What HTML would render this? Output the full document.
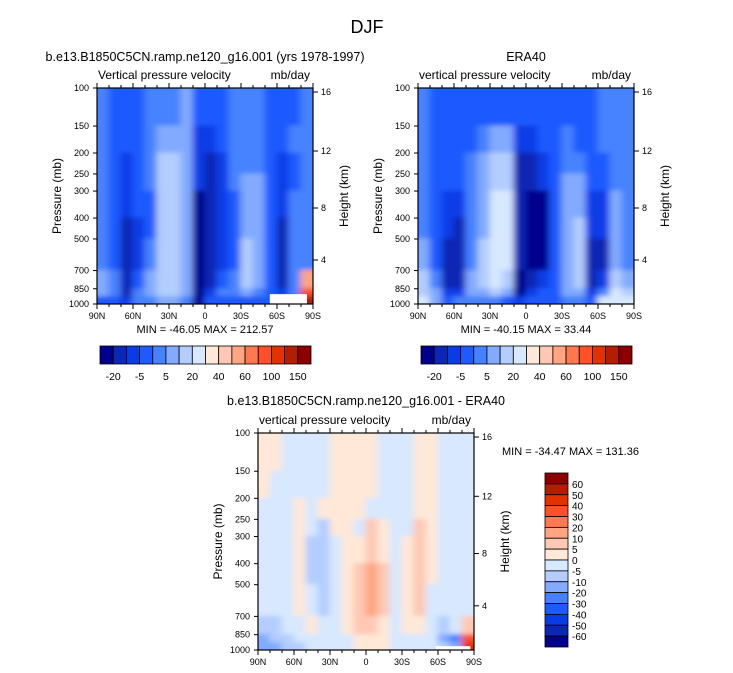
<!DOCTYPE html>
<html><head><meta charset="utf-8">
<style>
html,body{margin:0;padding:0;background:#fff;}
svg{display:block;font-family:"Liberation Sans",Arial,sans-serif;}
</style></head>
<body>
<svg id="root" width="733" height="673" viewBox="0 0 733 673" xmlns="http://www.w3.org/2000/svg">
<defs>
<filter id="blur" filterUnits="userSpaceOnUse" x="0" y="0" width="733" height="673"><feGaussianBlur stdDeviation="3.5 2.5"/></filter>
</defs>
<text x="367" y="33" font-size="18" text-anchor="middle">DJF</text>
</svg>
<script>
// ---- data ----
const latLabels = ["90N","60N","30N","0","30S","60S","90S"];
const presTicks = [100,150,200,250,300,400,500,700,850,1000];
const heightTicks = [16,12,8,4];
const layerEdges = [100,150,200,250,300,400,500,700,850,925,1000];
const latEdges = [90,80,70,60,50,40,30,20,10,0,-10,-20,-30,-40,-50,-60,-70,-80,-90];
const palette = ["#00008c","#0a28b4","#0a3ce6","#1e5aff","#4682ff","#82aaff","#b4cdff","#d7e8ff","#ffe8d7","#ffc8b4","#ffa582","#ff7850","#ff5028","#e13200","#b41e00","#8c0000"];
const levelsAbs = [-40,-30,-20,-10,-5,0,5,10,20,30,40,60,80,100,150];
const levelsDiff = [-60,-50,-40,-30,-20,-10,-5,0,5,10,20,30,40,50,60];
const cbLabelsAbs = ["-20","-5","5","20","40","60","100","150"];
const cbLabelsDiff = ["60","50","40","30","20","10","5","0","-5","-10","-20","-30","-40","-50","-60"];
const modelField = [
[-7,-12,-15,-15,-7,-7,-7,-5,-15,-15,-15,-7,-7,-7,-15,-15,-15,-7],
[-7,-12,-15,-15,-7,-3,-3,-3,-25,-25,-15,-7,-7,-7,-15,-15,-7,-7],
[-7,-15,-25,-15,-7,2,2,-3,-25,-35,-25,-7,-7,-7,-15,-25,-15,-7],
[-7,-15,-25,-15,-7,2,2,-3,-25,-35,-25,-7,-3,-3,-15,-25,-15,-7],
[-7,-15,-25,-15,-15,2,2,-3,-45,-35,-25,-15,-3,-3,-15,-25,-7,-7],
[-7,-15,-35,-25,-15,2,2,-3,-45,-35,-25,-15,-3,-3,-15,-35,-7,-7],
[-7,-15,-35,-25,-7,2,2,-3,-45,-35,-25,-15,2,-3,-15,-35,-7,-7],
[-3,-7,-35,-15,-3,2,2,-3,-45,-35,-15,-7,2,-3,-15,-35,-7,30],
[-3,-7,-35,-7,-3,2,2,-3,-45,-25,-7,-7,-3,-7,-15,-25,-7,60],
[-15,-15,-25,-7,-7,-3,-3,-7,-45,-15,-15,-15,-15,-15,-15,-15,-15,100]];
const eraField = [
[-7,-15,-15,-15,-15,-15,-15,-15,-15,-15,-15,-15,-15,-15,-15,-7,-7,-7],
[-7,-15,-15,-15,-15,-7,-3,-3,-25,-25,-15,-15,-7,-15,-15,-7,-7,-7],
[-7,-15,-15,-15,-7,-3,2,2,-35,-35,-25,-15,-7,-7,-15,-15,-7,-7],
[-7,-15,-15,-15,-7,-3,2,2,-35,-35,-25,-15,-3,-3,-15,-15,-7,-7],
[-7,-15,-25,-25,-7,-3,7,7,-35,-45,-45,-15,-3,-3,-25,-25,-3,-7],
[-7,-15,-25,-35,-7,-3,7,7,-35,-45,-45,-15,-3,2,-25,-25,-3,-7],
[-3,-15,-35,-35,-7,2,7,7,-35,-45,-45,-15,-3,2,-35,-35,-3,-7],
[2,-7,-35,-35,-3,2,7,2,-45,-35,-25,-15,-3,2,-35,-25,2,-3],
[2,-3,-25,-25,-3,-3,2,-3,-45,-25,-15,-15,-3,-3,-25,-7,7,2],
[7,-3,-15,-7,-7,-7,-7,-15,-25,-15,-15,-15,-7,-7,-15,7,7,7]];
const diffField = [
[2,2,-2,-2,-2,-2,2,2,2,2,-2,-2,-2,2,2,-2,-2,-2],
[2,-2,-2,-2,-2,-2,2,2,2,2,-2,-2,-2,2,2,-2,-2,-2],
[-2,-2,-2,2,-2,2,2,2,2,-2,-2,-2,-2,2,2,-2,-2,-2],
[-2,-2,-2,2,-2,-7,2,2,-2,7,2,-2,-2,7,2,-2,-2,-2],
[-2,-2,-2,2,-7,-7,-2,2,2,7,2,-2,2,7,2,-2,-2,-2],
[-2,-2,-2,2,-7,-7,-2,2,7,15,7,-2,2,7,2,-2,-2,-2],
[-2,-2,-2,2,-2,-7,-2,2,7,15,7,-2,2,7,-2,-2,-2,-2],
[-7,-7,-2,-2,2,-2,-2,2,7,7,2,-2,2,2,-2,-7,-2,7],
[-15,-7,-7,-2,-2,-2,-2,-2,2,2,2,-2,-2,-2,-2,-15,-25,30],
[-15,-15,-7,-7,-2,-2,-2,-2,2,2,2,-2,-2,-2,-2,-7,-15,40]];

const NS="http://www.w3.org/2000/svg";
const root=document.getElementById('root');
function el(tag,attrs,parent){const e=document.createElementNS(NS,tag);for(const k in attrs)e.setAttribute(k,attrs[k]);(parent||root).appendChild(e);return e;}
function txt(x,y,s,size,anchor,parent){const t=el('text',{x:x,y:y,'font-size':size,'text-anchor':anchor||'middle'},parent);t.textContent=s;return t;}
function colorFor(v,levels){let i=0;while(i<levels.length&&v>=levels[i])i++;return palette[i];}

function panel(opt){
  const {x0,y0,w,h,field,levels,name}=opt;
  const g=el('g',{});
  
  
  const xs=lat=>x0+(90-lat)/180*w;
  const ys=p=>y0+(Math.log(p)-Math.log(100))/(Math.log(1000)-Math.log(100))*h;
  const cid='clip-'+name;
  const cp=el('clipPath',{id:cid},g);el('rect',{x:x0,y:y0,width:w,height:h},cp);
  const cg=el('g',{'clip-path':'url(#'+cid+')'},g);
  const fg=el('g',{filter:'url(#blur)'},cg);
  
  
  for(let r=0;r<field.length;r++){for(let c=0;c<field[r].length;c++){
    const xa=xs(latEdges[c]),xb=xs(latEdges[c+1]);
    let ya=ys(layerEdges[r]),yb=ys(layerEdges[r+1]);
    if(r===0)ya-=6; if(r===field.length-1)yb+=6;
    const cell=el('rect',{x:xa-(c===0?6:0.5),y:ya-0.5,width:xb-xa+1+(c===0||c===field[r].length-1?6:0),height:yb-ya+1,fill:colorFor(field[r][c],levels)},fg);
    
    
  }}
  if(opt.missing){const m=el('rect',{x:xs(opt.missing[0]),y:ys(opt.missing[1]),width:xs(opt.missing[2])-xs(opt.missing[0]),height:y0+h-ys(opt.missing[1]),fill:'#fff'},cg);
    }
  el('rect',{x:x0,y:y0,width:w,height:h,fill:'none',stroke:'#000','stroke-width':1.2},g);
  for(let lat=90;lat>=-90;lat-=10){
    const X=xs(lat);const major=lat%30===0;const L=major?5:3;
    el('line',{x1:X,x2:X,y1:y0+h,y2:y0+h+L,stroke:'#000','stroke-width':1},g);
    el('line',{x1:X,x2:X,y1:y0,y2:y0-L,stroke:'#000','stroke-width':1},g);
  }
  latLabels.forEach((s,i)=>{const t=txt(xs(90-30*i),y0+h+15,s,9,'middle',g);});
  presTicks.forEach(p=>{const Y=ys(p);el('line',{x1:x0,x2:x0-4,y1:Y,y2:Y,stroke:'#000'},g);
    const t=txt(x0-8,Y+3,String(p),9,'end',g);});
  const hkm=[92,151,208,260].map(v=>v-88);
  heightTicks.forEach((k,i)=>{const Y=y0+hkm[i]*h/216;el('line',{x1:x0+w,x2:x0+w+5,y1:Y,y2:Y,stroke:'#000'},g);
    const t=txt(x0+w+8,Y+3,String(k),9,'start',g);});
  const py=txt(0,0,'Pressure (mb)',12,'middle',g);py.setAttribute('transform','translate('+(x0-36)+','+(y0+h/2)+') rotate(-90)');
  
  const hy=txt(0,0,'Height (km)',12,'middle',g);hy.setAttribute('transform','translate('+(x0+w+35)+','+(y0+h/2)+') rotate(-90)');
  
  const l=txt(x0+1,y0-9,opt.left,12,'start',g);
  const u=txt(x0+w-3,y0-9,'mb/day',12,'end',g);
  const tt=txt(opt.tx,opt.ty,opt.title,12.5,'middle',g);
  const mm=txt(opt.mx,opt.my,opt.minmax,11,opt.ma,g);
}
function hbar(x0,y0,name){
  const g=el('g',{});
  const w=211/16;
  palette.forEach((c,i)=>{const r=el('rect',{x:x0+i*w,y:y0,width:w,height:18,fill:c,stroke:'#000','stroke-width':0.8},g);
    });
  cbLabelsAbs.forEach((s,i)=>{const t=txt(x0+(1+2*i)*w,y0+34,s,10.5,'middle',g);});
}
function vbar(x0,y0,name){
  const g=el('g',{});
  const h=174/16;
  palette.slice().reverse().forEach((c,i)=>{const r=el('rect',{x:x0,y:y0+i*h,width:23,height:h,fill:c,stroke:'#000','stroke-width':0.8},g);
    });
  cbLabelsDiff.forEach((s,i)=>{const t=txt(x0+27,y0+(i+1)*h+4,s,10,'start',g);});
}
panel({name:'model-panel',x0:97,y0:88,w:216,h:216,field:modelField,levels:levelsAbs,left:'Vertical pressure velocity',
  title:'b.e13.B1850C5CN.ramp.ne120_g16.001 (yrs 1978-1997)',tx:205,ty:61,minmax:'MIN = -46.05  MAX = 212.57',mx:205,my:333,ma:'middle',missing:[-54,900,-85]});
panel({name:'era40-panel',x0:418,y0:88,w:216,h:216,field:eraField,levels:levelsAbs,left:'vertical pressure velocity',
  title:'ERA40',tx:526,ty:61,minmax:'MIN = -40.15  MAX = 33.44',mx:526,my:333,ma:'middle'});
panel({name:'difference-panel',x0:258,y0:433,w:216,h:217,field:diffField,levels:levelsDiff,left:'vertical pressure velocity',
  title:'b.e13.B1850C5CN.ramp.ne120_g16.001 - ERA40',tx:366,ty:405,minmax:'MIN = -34.47  MAX = 131.36',mx:502,my:455,ma:'start',missing:[-58,960,-87]});
hbar(100,346,'model-colorbar');
hbar(421,346,'era40-colorbar');
vbar(545,473,'difference-colorbar');
</script>
</body></html>
